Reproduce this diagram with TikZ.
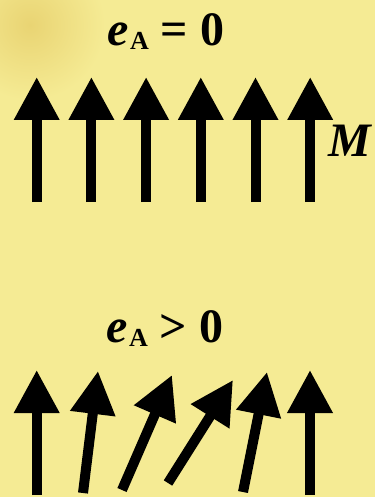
\documentclass[tikz,border=0pt]{standalone}
\usepackage{fontspec}
\setmainfont{Liberation Serif}
\usepackage{tikz}
\usetikzlibrary{arrows.meta}
\definecolor{parch}{RGB}{245,235,148}
\definecolor{parchdark}{RGB}{233,212,115}
\definecolor{ink}{RGB}{0,0,0}
\tikzset{
  spin/.style={draw=ink,line width=10pt,-{Triangle[length=43pt,width=43pt]}},
  lbl/.style={text=ink,font=\fontsize{48}{48}\selectfont\bfseries,inner sep=0pt,anchor=base},
}
\newcommand{\eA}{\textit{e}\kern1pt\raisebox{-4pt}{\fontsize{26}{26}\selectfont A}}

\begin{document}
\begin{tikzpicture}[x=1pt,y=-1pt]
    \useasboundingbox (0,0) rectangle (375,497);
    \clip (0,0) rectangle (375,497);
    \fill[parch] (0,0) rectangle (375,497);
    \shade[inner color=parchdark,outer color=parch] (30,25) circle (75);
    \node[lbl] (top) at (166,45.5) {\eA\ = 0};
    \node[lbl] (bot) at (165,342.5) {\eA\ > 0};
    \node[lbl,font=\fontsize{48}{48}\selectfont\bfseries\itshape] (mlab) at (350,157) {M};
    \foreach \i in {0,...,5}
      \draw[spin] ({36.7+54.7*\i},202) -- ({36.7+54.7*\i},77);
    \foreach \tx/\ty/\hx/\hy in {36.7/495/36.7/370, 83/493/98/371, 122/490/172/375,
                                 168/483/233/380, 243/492/267/372, 310/495/310/370}
      \draw[spin] (\tx,\ty) -- (\hx,\hy);
  \end{tikzpicture}
\end{document}
